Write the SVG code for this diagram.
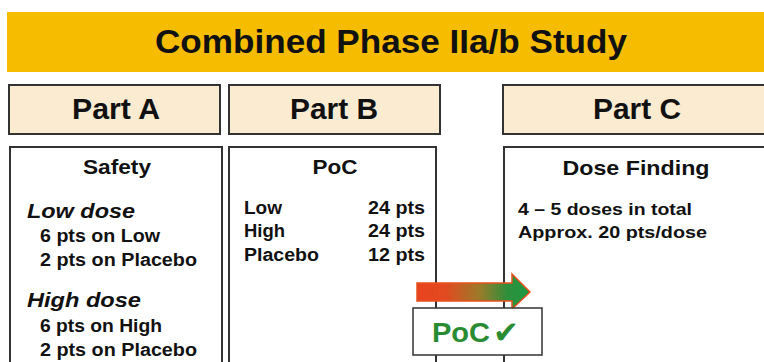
<svg xmlns="http://www.w3.org/2000/svg" width="764" height="362" viewBox="0 0 764 362">
<defs>
<style>
text{font-family:"Liberation Sans",Arial,sans-serif;font-weight:bold;fill:#111}
.hdr{fill:#FBEBD1;stroke:#333;stroke-width:2}
.body{fill:#fff;stroke:#333;stroke-width:2}
.h{font-size:29px;text-anchor:middle}
.t{font-size:21px;text-anchor:middle}
.s{font-size:18px}
.c{font-size:17px}
.i{font-size:21px;font-style:italic}
</style>
<linearGradient id="g" x1="417" y1="0" x2="530" y2="0" gradientUnits="userSpaceOnUse">
<stop offset="0" stop-color="#E8431E"/>
<stop offset="0.25" stop-color="#E24A1F"/>
<stop offset="0.55" stop-color="#9C7A2A"/>
<stop offset="0.8" stop-color="#2E8F3A"/>
<stop offset="1" stop-color="#1C9A44"/>
</linearGradient>
</defs>
<rect width="764" height="362" fill="#fff"/>
<g id="banner">
<rect x="7" y="12" width="760" height="60" fill="#F6BC00"/>
<text x="391" y="53" font-size="34" text-anchor="middle" textLength="472" lengthAdjust="spacingAndGlyphs">Combined Phase IIa/b Study</text>
</g>
<g id="partA-header">
<rect class="hdr" x="9" y="85" width="211" height="49"/>
<text class="h" x="116" y="119" textLength="88" lengthAdjust="spacingAndGlyphs">Part A</text>
</g>
<g id="partB-header">
<rect class="hdr" x="229" y="85" width="211" height="49"/>
<text class="h" x="334" y="119" textLength="88" lengthAdjust="spacingAndGlyphs">Part B</text>
</g>
<g id="partC-header">
<rect class="hdr" x="503" y="85" width="270" height="49"/>
<text class="h" x="637" y="119" textLength="88" lengthAdjust="spacingAndGlyphs">Part C</text>
</g>
<g id="partA-body">
<rect class="body" x="10" y="147" width="212" height="230"/>
<text class="t" x="117" y="174" textLength="68" lengthAdjust="spacingAndGlyphs">Safety</text>
<text class="i" x="27" y="218" textLength="108" lengthAdjust="spacingAndGlyphs">Low dose</text>
<text class="s" x="40" y="242" textLength="120" lengthAdjust="spacingAndGlyphs">6 pts on Low</text>
<text class="s" x="40" y="266" textLength="157" lengthAdjust="spacingAndGlyphs">2 pts on Placebo</text>
<text class="i" x="27" y="307" textLength="114" lengthAdjust="spacingAndGlyphs">High dose</text>
<text class="s" x="40" y="332" textLength="122" lengthAdjust="spacingAndGlyphs">6 pts on High</text>
<text class="s" x="40" y="356" textLength="157" lengthAdjust="spacingAndGlyphs">2 pts on Placebo</text>
</g>
<g id="partB-body">
<rect class="body" x="229" y="147" width="207" height="230"/>
<text class="t" x="335" y="174" textLength="45" lengthAdjust="spacingAndGlyphs">PoC</text>
<text class="s" x="244" y="214" textLength="38" lengthAdjust="spacingAndGlyphs">Low</text>
<text class="s" x="244" y="237" textLength="41" lengthAdjust="spacingAndGlyphs">High</text>
<text class="s" x="244" y="261" textLength="75" lengthAdjust="spacingAndGlyphs">Placebo</text>
<text class="s" x="368" y="214" textLength="57" lengthAdjust="spacingAndGlyphs">24 pts</text>
<text class="s" x="368" y="237" textLength="57" lengthAdjust="spacingAndGlyphs">24 pts</text>
<text class="s" x="368" y="261" textLength="57" lengthAdjust="spacingAndGlyphs">12 pts</text>
</g>
<g id="partC-body">
<rect class="body" x="504" y="147" width="270" height="230"/>
<text class="t" x="636" y="175" textLength="147" lengthAdjust="spacingAndGlyphs">Dose Finding</text>
<text class="c" x="518" y="215" textLength="174" lengthAdjust="spacingAndGlyphs">4 – 5 doses in total</text>
<text class="c" x="518" y="238" textLength="189" lengthAdjust="spacingAndGlyphs">Approx. 20 pts/dose</text>
</g>
<g id="connectors">
<path d="M417 283 H512 V274 L530 292 L512 309 V301 H417 Z" fill="url(#g)" stroke="#E8501E" stroke-width="1.5" stroke-linejoin="miter"/>
</g>
<g id="poc-check">
<rect x="413" y="308" width="129" height="47" fill="#fff" stroke="#333" stroke-width="1.5"/>
<text x="432" y="342" font-size="28" textLength="58" lengthAdjust="spacingAndGlyphs" style="fill:#2A8C32">PoC</text>
<text x="493" y="343" font-size="31" textLength="26" lengthAdjust="spacingAndGlyphs" style="fill:#2A8C32;font-family:'DejaVu Sans',sans-serif">✔</text>
</g>
</svg>
